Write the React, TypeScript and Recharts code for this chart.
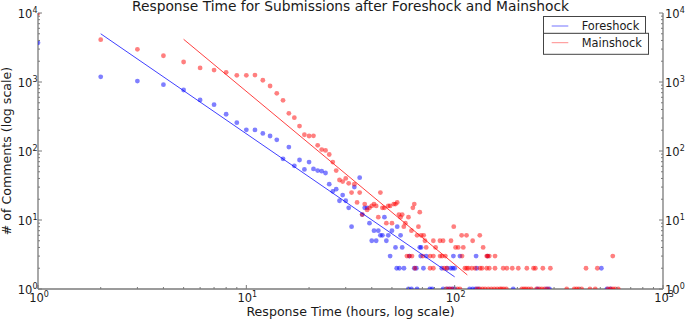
import React from 'react';
import { ScatterChart, Scatter, XAxis, YAxis, Legend } from 'recharts';

const FONT = '"DejaVu Sans", Verdana, sans-serif';
const AXIS = '#7a7a7a';
const TEXT = '#1a1a1a';

const TITLE = 'Response Time for Submissions after Foreshock and Mainshock';
const X_LABEL = 'Response Time (hours, log scale)';
const Y_LABEL = '# of Comments (log scale)';
const SERIES_NAMES = ['Foreshock', 'Mainshock'];

// Foreshock (blue) scatter points
const foreX = [
  1, 2, 3, 4, 5, 6, 7, 8, 9, 10, 11, 12, 13, 14, 15, 16, 17, 18, 19, 20,
  21, 22, 23, 24, 25, 26, 27, 28, 29, 30, 31, 32, 33, 35, 36, 37, 38, 39, 40, 41,
  42, 43, 44, 45, 46, 47, 48, 50, 53, 55, 52, 56, 68, 69,
  49, 60.6, 68.7, 73, 98.6, 106, 126.7, 144,
  52.7, 54.3, 57.1, 64, 65.5, 70.8, 86.7, 92, 95.7, 97.9, 100, 127.6, 506,
  60, 62, 66, 76, 78, 88, 92, 95, 98, 100, 118, 122, 126, 130, 191, 250, 276, 285, 538, 560,
];
const foreY = [
  3700, 1190, 1030, 915, 766, 549, 470, 341, 257, 203, 202, 180, 165, 145, 77, 114, 61, 74, 54, 69,
  55, 52, 51, 48, 33, 26, 28, 19, 23, 19, 15, 8, 30, 41, 12, 15, 15, 9, 5, 7,
  5, 7, 6, 6, 11, 5, 6, 7, 8, 6, 4, 4, 4, 4,
  3, 3, 3, 3, 3, 3, 3, 3,
  2, 2, 2, 2, 2, 2, 2, 2, 2, 2, 2, 2, 2,
  1, 1, 1, 1, 1, 1, 1, 1, 1, 1, 1, 1, 1, 1, 1, 1, 1, 1, 1, 1,
];

// Mainshock (red) scatter points
const mainX = [
  1, 2, 3, 4, 5, 6, 7, 8, 9, 10, 11, 12, 13, 14, 15, 16, 17, 18, 19, 20,
  21, 22, 23, 24, 25, 26, 27, 28, 29, 30, 31, 32, 33, 34, 35, 36, 37, 38, 39, 40,
  41, 42, 43, 44, 45, 46, 47, 48, 49, 50, 51, 52, 53, 54, 55, 56, 57, 58, 60, 62,
  63, 64, 66, 67, 68, 69, 71, 72, 73, 79, 81, 85, 88, 96, 99, 101, 104, 108, 110, 114,
  122, 132, 137,
  59, 60.6, 62.4, 70.3, 76.2, 79, 85.1, 87, 90.2, 108.5, 142.5, 144, 146.6, 156.2, 574,
  64.5, 76.2, 79, 89, 91.6, 112, 114.3, 116.4, 120.8, 125.3, 132.4, 135.3, 142.5, 146.6, 156.2,
  171, 178, 189, 202, 222, 239, 244, 265, 288, 427, 484,
  91, 94, 97, 103, 106, 128, 132, 136, 140, 145, 150, 155, 160, 165, 168, 172, 177, 210, 215, 220,
  226, 233, 247, 255, 262, 270, 280, 345, 375, 385, 395, 407, 446, 473, 545, 560, 575, 590, 610,
];
const mainY = [
  10000, 4100, 2980, 2400, 1950, 1600, 1490, 1380, 1250, 1250, 1260, 1060, 875, 686, 543, 352, 304, 230, 172, 165,
  166, 121, 105, 102, 89, 69, 52, 38, 36, 40, 34, 25, 33, 18, 25, 12, 17, 14, 15, 16,
  17, 16, 11, 25, 15, 15, 9, 16, 16, 9, 17, 17, 18, 12, 11, 12, 8, 9, 11, 7,
  15, 17, 6, 8, 13, 6, 6, 5, 4, 5, 4, 5, 5, 5, 8, 4, 4, 6, 4, 6,
  5, 6, 4,
  3, 3, 3, 3, 3, 3, 3, 3, 3, 3, 3, 3, 3, 3, 3,
  2, 2, 2, 2, 2, 2, 2, 2, 2, 2, 2, 2, 2, 2, 2,
  2, 2, 2, 2, 2, 2, 2, 2, 2, 2, 2,
  1, 1, 1, 1, 1, 1, 1, 1, 1, 1, 1, 1, 1, 1, 1, 1, 1, 1, 1, 1,
  1, 1, 1, 1, 1, 1, 1, 1, 1, 1, 1, 1, 1, 1, 1, 1, 1, 1, 1,
];

// Power-law fit lines (end points)
const foreFitX = [2, 100];
const foreFitY = [5000, 1.5];
const mainFitX = [5, 115];
const mainFitY = [4160, 1.6];

const xTicks = [
  1, 2, 3, 4, 5, 6, 7, 8, 9,
  10, 20, 30, 40, 50, 60, 70, 80, 90,
  100, 200, 300, 400, 500, 600, 700, 800, 900, 1000,
];
const yTicks = [
  1, 2, 3, 4, 5, 6, 7, 8, 9,
  10, 20, 30, 40, 50, 60, 70, 80, 90,
  100, 200, 300, 400, 500, 600, 700, 800, 900,
  1000, 2000, 3000, 4000, 5000, 6000, 7000, 8000, 9000, 10000,
];

const zip = (xs: number[], ys: number[]) => xs.map((x, i) => ({ x, y: ys[i] }));
const foreData = zip(foreX, foreY);
const mainData = zip(mainX, mainY);
const foreFit = zip(foreFitX, foreFitY);
const mainFit = zip(mainFitX, mainFitY);

const isMajor = (v: number) => {
  const l = Math.log10(v);
  return Math.abs(l - Math.round(l)) < 1e-6;
};
const expOf = (v: number) => Math.round(Math.log10(v));

const MAJ = 4;
const MIN = 2;
const TICK_FS = 11.5;
const SUP_FS = 8;

const Pow = ({ x, y, v, anchor }: { x: number; y: number; v: number; anchor: string }) => (
  <text x={x} y={y} textAnchor={anchor} fontFamily={FONT} fontSize={TICK_FS} fill={TEXT}>
    <tspan>10</tspan>
    <tspan dy={-5} fontSize={SUP_FS}>{expOf(v)}</tspan>
  </text>
);

const BottomTick = (p: any) => {
  const v = p.payload.value;
  const m = isMajor(v);
  return (
    <g>
      <line x1={p.x} y1={p.y} x2={p.x} y2={p.y - (m ? MAJ : MIN)} stroke={AXIS} strokeWidth={1} />
      {m && <Pow x={p.x + 1} y={p.y + 12.5} v={v} anchor="middle" />}
    </g>
  );
};
const TopTick = (p: any) => {
  const v = p.payload.value;
  const m = isMajor(v);
  return <line x1={p.x} y1={p.y} x2={p.x} y2={p.y + (m ? MAJ : MIN)} stroke={AXIS} strokeWidth={1} />;
};
const LeftTick = (p: any) => {
  const v = p.payload.value;
  const m = isMajor(v);
  return (
    <g>
      <line x1={p.x} y1={p.y} x2={p.x + (m ? MAJ : MIN)} y2={p.y} stroke={AXIS} strokeWidth={1} />
      {m && <Pow x={p.x - 0.5} y={p.y + 5} v={v} anchor="end" />}
    </g>
  );
};
const RightTick = (p: any) => {
  const v = p.payload.value;
  const m = isMajor(v);
  return (
    <g>
      <line x1={p.x} y1={p.y} x2={p.x - (m ? MAJ : MIN)} y2={p.y} stroke={AXIS} strokeWidth={1} />
      {m && <Pow x={p.x + 2} y={p.y + 5} v={v} anchor="start" />}
    </g>
  );
};

const dot = (color: string) => (p: any) => (
  <circle cx={p.cx} cy={p.cy} r={2.4} fill={color} fillOpacity={0.5} />
);
const noDot = () => <g />;

const LegendBox = () => (
  <svg width={110} height={40} style={{ display: 'block' }}>
    <rect x={0.5} y={0.5} width={102} height={17} fill="#fff" stroke="#444" strokeWidth={1} />
    <rect x={0.5} y={17.3} width={105} height={21} fill="#fff" stroke="#444" strokeWidth={1} />
    <line x1={8.7} y1={10} x2={25.3} y2={10} stroke="blue" strokeOpacity={0.55} strokeWidth={1} />
    <line x1={8.7} y1={26.7} x2={25.3} y2={26.7} stroke="red" strokeOpacity={0.45} strokeWidth={1} />
    <text x={38.7} y={14.2} fontFamily={FONT} fontSize={11.4} fill={TEXT}>{SERIES_NAMES[0]}</text>
    <text x={38.7} y={30.9} fontFamily={FONT} fontSize={11.4} fill={TEXT}>{SERIES_NAMES[1]}</text>
  </svg>
);

const xLabel = () => (
  <text x={350.5} y={316} textAnchor="middle" fontFamily={FONT} fontSize={12.6} fill={TEXT}>{X_LABEL}</text>
);
const yLabelAndTitle = () => (
  <g>
    <text x={350.5} y={11.2} textAnchor="middle" fontFamily={FONT} fontSize={13.8} fill={TEXT}>{TITLE}</text>
    <text x={11} y={151} transform="rotate(-90, 11, 151)" textAnchor="middle" fontFamily={FONT} fontSize={12.6} fill={TEXT}>{Y_LABEL}</text>
  </g>
);

export default function App() {
  const axisLine = { stroke: AXIS, strokeWidth: 1.3 };
  return (
    <div style={{ position: 'absolute', left: 0, top: 0, width: 685, height: 319, background: '#fff' }}>
      <ScatterChart width={685} height={319} margin={{ top: 13, right: 0, bottom: 0, left: 0 }}>
        <XAxis
          xAxisId="b" dataKey="x" type="number" scale="log" domain={[1, 1000]} allowDataOverflow
          ticks={xTicks} interval={0} height={30} tickSize={0} tickMargin={0} tickLine={false}
          axisLine={axisLine} tick={BottomTick} label={xLabel}
        />
        <XAxis
          xAxisId="t" orientation="top" dataKey="x" type="number" scale="log" domain={[1, 1000]} allowDataOverflow
          ticks={xTicks} interval={0} height={0} tickSize={0} tickMargin={0} tickLine={false}
          axisLine={axisLine} tick={TopTick}
        />
        <YAxis
          yAxisId="l" dataKey="y" type="number" scale="log" domain={[1, 10000]} allowDataOverflow
          ticks={yTicks} interval={0} width={38} tickSize={0} tickMargin={0} tickLine={false}
          axisLine={axisLine} tick={LeftTick} label={yLabelAndTitle}
        />
        <YAxis
          yAxisId="r" orientation="right" dataKey="y" type="number" scale="log" domain={[1, 10000]} allowDataOverflow
          ticks={yTicks} interval={0} width={22} tickSize={0} tickMargin={0} tickLine={false}
          axisLine={axisLine} tick={RightTick}
        />
        <Scatter name={SERIES_NAMES[0]} xAxisId="b" yAxisId="l" data={foreData} shape={dot('blue')} isAnimationActive={false} />
        <Scatter name={SERIES_NAMES[1]} xAxisId="b" yAxisId="l" data={mainData} shape={dot('red')} isAnimationActive={false} />
        <Scatter xAxisId="t" yAxisId="r" data={foreFit} shape={noDot} line={{ stroke: 'blue', strokeWidth: 1, strokeOpacity: 0.75 }} legendType="none" isAnimationActive={false} />
        <Scatter xAxisId="t" yAxisId="r" data={mainFit} shape={noDot} line={{ stroke: 'red', strokeWidth: 1, strokeOpacity: 0.75 }} legendType="none" isAnimationActive={false} />
        <Legend
          layout="horizontal" verticalAlign="middle" align="center"
          wrapperStyle={{ position: 'absolute', left: 543, top: 16, width: 110, height: 40 }}
          content={LegendBox}
        />
      </ScatterChart>
    </div>
  );
}
